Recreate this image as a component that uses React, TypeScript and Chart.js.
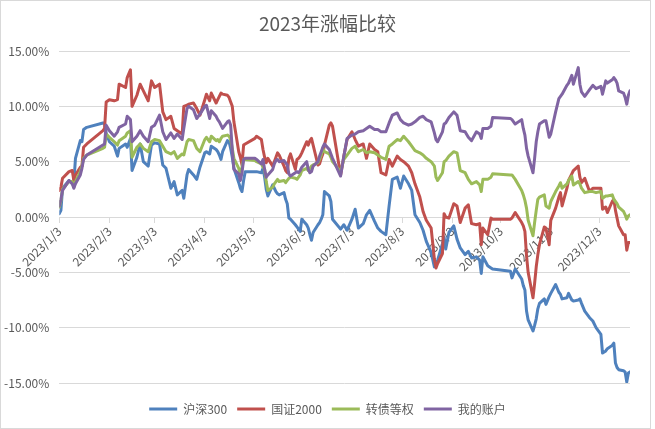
import React, { useEffect, useRef } from "react";
import { Chart, registerables } from "chart.js";

Chart.register(...registerables);

const TITLE = "2023年涨幅比较";
const SERIES_NAMES = ["沪深300", "国证2000", "转债等权", "我的账户"];
const COLORS = ["#4F81BD", "#C0504D", "#9BBB59", "#8064A2"];
const FONT = '"Noto Sans CJK SC", "Noto Sans", sans-serif';
const TEXT_COLOR = "#595959";
const GRID_COLOR = "#d9d9d9";

const TICK_DATES = ["1/3", "2/3", "3/3", "4/3", "5/3", "6/3", "7/3", "8/3", "9/3", "10/3", "11/3", "12/3"];
const TICK_LABELS = TICK_DATES.map((d) => "2023/" + d);
const Y_TICKS = [-15, -10, -5, 0, 5, 10, 15];

const DATES = [
  "1/3", "1/4", "1/5", "1/9", "1/11", "1/12", "1/13", "1/16", "1/17", "1/18", "1/20", "1/30", "1/31",
  "2/1", "2/3", "2/6", "2/8", "2/9", "2/13", "2/14", "2/16", "2/17", "2/20", "2/22", "2/24", "2/27",
  "3/1", "3/3", "3/6", "3/8", "3/10", "3/13", "3/15", "3/17", "3/20", "3/21", "3/23", "3/24", "3/27", "3/29", "3/31",
  "4/3", "4/4", "4/6", "4/7", "4/10", "4/11", "4/12", "4/13", "4/14", "4/17", "4/18", "4/19", "4/20", "4/21",
  "4/24", "4/25", "4/26", "4/27", "4/28", "5/4", "5/5", "5/8", "5/9", "5/10", "5/11", "5/12", "5/15", "5/16",
  "5/17", "5/18", "5/19", "5/22", "5/23", "5/24", "5/25", "5/26", "5/29", "5/30", "5/31", "6/1", "6/2", "6/5",
  "6/6", "6/7", "6/8", "6/9", "6/12", "6/13", "6/14", "6/15", "6/16", "6/19", "6/20", "6/21",
  "6/26", "6/28", "6/30", "7/3", "7/5", "7/7", "7/10", "7/12", "7/14", "7/17", "7/19", "7/21", "7/24", "7/26",
  "7/28", "7/31", "8/2", "8/4", "8/7", "8/9", "8/11", "8/14", "8/16", "8/18", "8/21", "8/23", "8/24", "8/25",
  "8/28", "8/29", "8/30", "9/1", "9/4", "9/6", "9/8", "9/11", "9/13", "9/15", "9/18", "9/20", "9/21", "9/22",
  "9/25", "9/27", "9/28",
  "10/9", "10/10", "10/12", "10/16", "10/17", "10/18", "10/19", "10/20", "10/23", "10/24", "10/25", "10/26",
  "10/27", "10/30", "10/31", "11/2", "11/3", "11/6", "11/8", "11/9", "11/10", "11/13", "11/14", "11/16", "11/17",
  "11/20", "11/21", "11/22", "11/24", "11/27", "11/29", "12/1", "12/4", "12/5", "12/7", "12/8", "12/11", "12/12",
  "12/13", "12/14", "12/15", "12/18", "12/19", "12/20", "12/21", "12/22",
];

const HS300 = [
  0.3, 0.6, 2.6, 3.3, 3.0, 3.1, 5.3, 6.9, 6.8, 7.9, 8.1, 8.5, 8.5, 7.6, 6.8, 6.4, 5.5, 6.2, 6.6, 6.3,
  7.1, 4.2, 5.4, 6.6, 5.0, 4.6, 6.5, 6.7, 6.6, 4.7, 4.4, 2.6, 3.2, 2.0, 2.4, 1.7, 3.8, 4.3, 3.8, 3.4, 4.5,
  5.8, 5.9, 5.7, 6.4, 6.1, 5.9, 5.6, 5.2, 5.9, 6.9, 6.8, 6.2, 5.4, 4.4, 3.1, 2.6, 2.3, 3.3, 4.1, 4.1,
  4.1, 4.0, 4.4, 3.6, 2.5, 1.9, 2.9, 2.6, 2.3, 2.1, 2.0, 2.2, 1.6, 1.2, -0.1, -0.2, -0.7, -0.9, -1.1, -1.3,
  -0.2, -0.7, -1.0, -1.6, -2.1, -1.4, -0.7, -0.5, -0.2, 0.2, 2.3, 1.9, 1.4, -0.2,
  -1.1, -0.7, -1.2, -0.2, 0.7, -1.0, -0.6, 0.2, 0.6, -0.4, -1.0, -1.3, -1.6, 1.0, 3.4, 3.6, 2.6, 3.7, 3.0, 2.4,
  0.2, -0.5, -1.2, -2.2, -3.2, -4.5, -4.3, -3.9, -2.4, -1.8, -2.9, -1.4, -0.8, -2.0, -2.8, -3.4, -3.1, -3.7, -3.6, -3.9,
  -5.1, -3.6, -4.4, -4.6, -4.7,
  -4.9, -5.5, -4.7, -5.6, -6.2, -6.6, -8.5, -9.3, -10.3, -9.8, -9.2, -8.3, -7.8, -7.4, -7.9, -7.2, -6.9, -6.1, -6.8, -7.0,
  -7.4, -7.3, -6.9, -7.5, -7.6, -7.5, -7.4, -7.8, -8.5, -9.1, -9.4, -10.0, -10.6, -12.3, -12.1, -11.9, -11.6, -11.4, -13.2, -13.6,
  -13.8, -13.9, -14.0, -14.9, -14.1, -14.0,
];

const GZ2000 = [
  2.4, 2.7, 3.5, 4.1, 4.2, 3.3, 3.8, 4.5, 4.6, 6.3, 6.6, 7.8, 8.0, 10.4, 10.6, 10.5, 10.6, 12.0, 11.7, 12.6,
  13.3, 10.0, 11.0, 12.0, 11.4, 10.5, 12.3, 11.7, 12.0, 9.5, 8.8, 9.1, 8.0, 7.8, 7.5, 10.0, 10.1, 10.2, 10.3, 9.8, 9.2,
  10.6, 11.1, 10.5, 11.2, 10.3, 10.6, 10.9, 11.2, 11.1, 11.0, 10.8, 10.4, 10.0, 8.6, 5.9, 5.4, 4.7, 6.5, 6.6, 7.1,
  7.3, 7.0, 6.1, 5.4, 4.9, 5.3, 4.6, 5.0, 5.4, 5.8, 5.6, 4.6, 4.2, 4.0, 5.3, 5.7, 4.3, 5.2, 5.3, 5.5,
  5.8, 6.8, 6.5, 6.9, 7.1, 6.5, 4.7, 4.8, 5.3, 5.7, 6.5, 8.3, 8.5, 8.2,
  3.8, 5.5, 7.0, 7.7, 7.0, 6.4, 6.6, 5.3, 6.6, 6.1, 5.9, 4.0, 3.8, 5.2, 4.6, 5.5, 5.2, 5.0, 4.6, 4.0,
  3.0, 1.8, 0.5, -0.3, -1.0, -3.8, -4.6, -4.2, -3.3, 0.3, 0.0, -0.1, 1.2, 1.0, -0.5, 0.8, 1.1, -0.6, -0.7, -0.6,
  -2.5, -1.0, -1.6, -0.1, -0.2,
  -0.2, -0.1, 0.4, -0.5, -0.8, -1.3, -3.5, -5.0, -7.3, -6.0, -4.5, -3.4, -2.5, -0.9, -1.0, -2.5, -0.3, 0.8, 1.8, 2.2,
  1.0, 2.6, 3.3, 3.9, 4.2, 4.6, 3.6, 3.1, 3.5, 2.3, 2.6, 2.6, 2.6, 0.7, 0.9, 0.4, 1.4, 1.6, 0.6, -0.1,
  -0.8, -1.6, -1.6, -3.0, -2.3, -2.3,
];

const CB_EQUAL = [
  0.9, 1.5, 2.5, 3.2, 3.2, 2.7, 3.2, 4.1, 4.6, 5.3, 5.6, 6.2, 6.3, 7.5, 7.2, 6.8, 6.5, 6.9, 7.3, 7.6,
  7.8, 5.4, 6.3, 6.6, 6.2, 5.9, 6.8, 7.0, 6.9, 6.4, 5.9, 5.7, 5.9, 5.3, 5.7, 5.6, 6.8, 7.0, 6.9, 6.2, 5.9,
  7.0, 7.2, 6.8, 7.3, 6.9, 7.0, 6.8, 7.1, 7.3, 7.4, 7.3, 7.0, 6.2, 5.3, 4.4, 3.8, 4.5, 5.2, 5.2, 5.1,
  5.0, 4.8, 4.5, 4.3, 3.2, 2.4, 2.7, 3.0, 3.2, 3.4, 3.2, 3.3, 3.1, 3.3, 3.5, 3.6, 3.5, 3.4, 3.6, 3.8,
  4.2, 4.4, 4.2, 4.4, 4.6, 4.7, 4.9, 5.2, 5.6, 6.2, 5.9, 5.7, 5.4, 5.0,
  4.1, 5.2, 5.6, 6.2, 6.4, 5.9, 6.1, 5.8, 5.9, 5.8, 5.6, 5.4, 5.2, 6.4, 6.6, 7.0, 6.9, 7.3, 6.8, 6.4,
  6.0, 5.8, 5.6, 5.3, 5.0, 4.6, 3.6, 3.3, 4.0, 5.0, 5.1, 5.5, 5.9, 5.8, 4.2, 4.0, 3.4, 3.0, 3.2, 2.9,
  2.3, 3.4, 3.4, 3.6, 3.9,
  3.8, 3.8, 3.4, 2.4, 2.0, 1.5, 0.8, -0.3, -1.7, -0.5, 0.6, 1.6, 1.8, 2.0, 1.0, 0.8, 1.4, 2.3, 2.8, 3.1,
  2.6, 3.0, 3.3, 3.7, 2.9, 3.2, 3.0, 2.6, 2.2, 2.3, 2.3, 2.2, 2.3, 1.7, 1.9, 1.9, 2.0, 1.6, 1.4, 1.2,
  0.9, 0.5, 0.2, -0.2, 0.1, 0.2,
];

const MY_ACCOUNT = [
  1.0, 1.6, 2.4, 3.3, 3.0, 2.6, 3.0, 3.8, 4.4, 5.2, 5.6, 6.5, 6.6, 8.3, 7.8, 7.3, 7.7, 8.1, 8.4, 9.1,
  8.8, 6.8, 7.3, 7.8, 7.3, 6.8, 8.1, 8.3, 9.2, 7.7, 7.0, 7.6, 7.1, 7.5, 7.0, 8.0, 9.8, 10.0, 9.7, 8.9, 9.3,
  10.0, 10.1, 8.9, 9.6, 9.1, 8.8, 8.6, 8.3, 8.0, 8.6, 8.7, 8.3, 6.0, 4.3, 3.9, 3.3, 4.0, 5.2, 5.3, 5.3,
  5.2, 4.8, 5.2, 4.3, 3.6, 3.8, 4.3, 4.8, 5.1, 5.2, 5.0, 5.1, 4.9, 4.7, 3.9, 3.7, 4.0, 4.1, 4.0, 4.2,
  4.5, 5.0, 4.3, 4.0, 4.1, 4.6, 5.0, 5.5, 5.9, 6.3, 6.6, 6.1, 5.7, 5.3,
  3.7, 5.5, 7.1, 7.4, 7.5, 7.7, 7.8, 8.0, 8.2, 7.9, 7.9, 7.7, 7.7, 8.5, 9.2, 9.4, 8.8, 8.5, 8.3, 8.4,
  8.6, 9.0, 9.1, 8.8, 8.6, 7.6, 7.0, 6.8, 7.7, 8.4, 8.5, 9.0, 9.5, 9.2, 7.8, 7.7, 7.2, 6.9, 7.7, 7.5,
  7.1, 8.0, 8.0, 8.2, 9.0,
  8.9, 8.8, 8.4, 8.8, 8.0, 7.4, 6.2, 5.5, 4.0, 5.3, 6.8, 7.7, 8.4, 8.7, 8.7, 7.2, 7.5, 9.5, 10.7, 10.9,
  11.1, 11.9, 12.1, 12.8, 12.0, 13.5, 12.0, 11.3, 10.9, 11.5, 11.9, 11.6, 11.8, 11.1, 12.3, 12.1, 12.4, 12.6, 12.4, 12.1,
  11.4, 11.2, 10.8, 10.2, 11.0, 11.4,
];

const SERIES = [HS300, GZ2000, CB_EQUAL, MY_ACCOUNT];

function dayOffset(md: string): number {
  const [m, d] = md.split("/").map(Number);
  return Math.round((Date.UTC(2023, m - 1, d) - Date.UTC(2023, 0, 3)) / 86400000);
}

const X_DAYS = DATES.map(dayOffset);
const TICK_DAYS = TICK_DATES.map(dayOffset);

export default function App() {
  const canvasRef = useRef<HTMLCanvasElement | null>(null);

  useEffect(() => {
    if (!canvasRef.current) return;
    const chart = new Chart(canvasRef.current, {
      type: "line",
      data: {
        datasets: SERIES_NAMES.map((name, i) => ({
          label: name,
          data: X_DAYS.map((x, j) => ({ x, y: SERIES[i][j] })),
          borderColor: COLORS[i],
          backgroundColor: COLORS[i],
          borderWidth: 3,
          pointRadius: 0,
          pointHoverRadius: 0,
          tension: 0,
          borderJoinStyle: "round",
          borderCapStyle: "round",
          order: SERIES_NAMES.length - 1 - i,
        })),
      },
      options: {
        animation: false,
        responsive: true,
        maintainAspectRatio: false,
        events: [],
        layout: { padding: { left: 0, right: 0, top: 0, bottom: 4 } },
        plugins: {
          title: {
            display: true,
            text: TITLE,
            color: TEXT_COLOR,
            font: { family: FONT, size: 19, weight: "normal" },
            padding: { top: 12.6, bottom: 15.6 },
          },
          legend: {
            position: "bottom",
            title: { display: true, text: "", padding: 0, font: { size: 10, lineHeight: 1 } },
            labels: {
              usePointStyle: true,
              pointStyle: "line",
              pointStyleWidth: 28,
              color: TEXT_COLOR,
              font: { family: FONT, size: 12 },
              padding: 10,
              sort: (a: any, b: any) => a.datasetIndex - b.datasetIndex,
            },
          },
          tooltip: { enabled: false },
        },
        scales: {
          x: {
            type: "linear",
            position: { y: 0 },
            min: 0,
            max: X_DAYS[X_DAYS.length - 1],
            afterBuildTicks: (axis: any) => {
              axis.ticks = TICK_DAYS.map((v) => ({ value: v }));
            },
            afterFit: (axis: any) => {
              axis.height = 0;
            },
            ticks: {
              autoSkip: false,
              maxRotation: 45,
              minRotation: 45,
              color: TEXT_COLOR,
              font: { family: FONT, size: 12 },
              padding: 2,
              callback: (value: any) => {
                const idx = TICK_DAYS.indexOf(Number(value));
                return idx >= 0 ? TICK_LABELS[idx] : "";
              },
            },
            grid: { drawOnChartArea: false, drawTicks: true, tickLength: 5, color: GRID_COLOR },
            border: { display: true, color: GRID_COLOR, width: 1 },
          },
          y: {
            type: "linear",
            position: "left",
            min: -15,
            max: 15,
            afterBuildTicks: (axis: any) => {
              axis.ticks = Y_TICKS.map((v) => ({ value: v }));
            },
            afterFit: (axis: any) => {
              axis.width = 59.3;
            },
            ticks: {
              color: TEXT_COLOR,
              font: { family: FONT, size: 12 },
              padding: 10,
              callback: (value: any) => Number(value).toFixed(2) + "%",
            },
            grid: { color: GRID_COLOR, drawTicks: false },
            border: { display: false },
          },
          yRight: {
            type: "linear",
            position: "right",
            display: true,
            min: -15,
            max: 15,
            afterFit: (axis: any) => {
              axis.width = 25;
            },
            ticks: { display: false },
            grid: { display: false, drawTicks: false },
            border: { display: false },
          },
        },
      } as any,
    });
    return () => chart.destroy();
  }, []);

  return (
    <div style={{ position: "fixed", left: 0, top: 0, width: 655, height: 429, background: "#fff" }}>
      <div
        style={{
          position: "absolute",
          left: 0,
          top: 0,
          width: 651,
          height: 429,
          border: "1px solid #d9d9d9",
          boxSizing: "border-box",
        }}
      />
      <div style={{ position: "absolute", left: 0, top: 0, width: 655, height: 429 }}>
        <canvas ref={canvasRef} />
      </div>
    </div>
  );
}
